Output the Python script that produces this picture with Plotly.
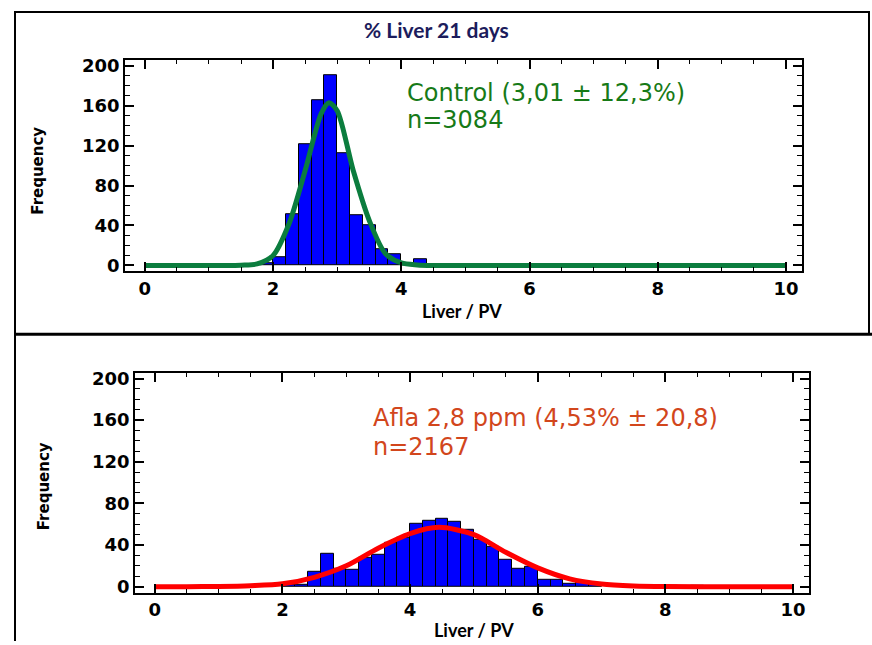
import plotly.graph_objects as go

W, H = 872, 645

# ---------------- data ----------------
bin_width = 0.2

control_bin_centers = [1.9, 2.1, 2.3, 2.5, 2.7, 2.9, 3.1, 3.3, 3.5, 3.7, 3.9, 4.1, 4.3]
control_counts      = [2,   8,   51,  121, 165, 190, 112, 50,  40,  16,  11,  0,   6]

afla_bin_centers = [2.1, 2.3, 2.5, 2.7, 2.9, 3.1, 3.3, 3.5, 3.7, 3.9, 4.1, 4.3, 4.5,
                    4.7, 4.9, 5.1, 5.3, 5.5, 5.7, 5.9, 6.1, 6.3, 6.5, 6.7, 6.9, 7.9, 8.1, 8.5]
afla_counts      = [2,   2,   14,  32,  17,  16,  28,  31,  42,  47,  60,  63,  65,
                    62,  55,  45,  38,  26,  17,  19,  7,   7,   3,   4,   3,   1,   1,   1]

control_fit_x = [0, 1.0, 1.25, 1.5, 1.75, 2.0, 2.25, 2.5, 2.75, 2.87, 3.0, 3.25, 3.5, 3.75, 4.0, 4.25, 4.5, 5.0, 7.5, 10]
control_fit_y = [0, 0,   0,    0.3, 1.5,  10,  42,   95,  152,  163,  155, 95,   45,  12,   2.5, 0.5,  0,   0,   0,   0]

afla_fit_x = [0, 0.5, 1.0, 1.5, 2.0, 2.5, 3.0, 3.5, 4.0, 4.45, 5.0, 5.5, 6.0, 6.5, 7.0, 7.5, 8.0, 9.0, 10]
afla_fit_y = [0, 0,   0.2, 0.9, 2.7, 9,   20,  37,  51,  57,   50,  33,  18,  7.5, 2.5, 0.7, 0.1, 0,   0]

x_tick_vals = [0, 2, 4, 6, 8, 10]
y_tick_vals = [0, 40, 80, 120, 160, 200]

title_text = "% Liver 21 days"
x_title = "Liver / PV"
y_title = "Frequency"
control_lines = ["Control (3,01 ± 12,3%)", "n=3084"]
afla_lines = ["Afla 2,8 ppm (4,53% ± 20,8)", "n=2167"]

# ---------------- figure ----------------
def px_x(p):
    return p / W

def px_y(p):
    return 1 - p / H

fig = go.Figure()

fig.add_trace(go.Bar(x=control_bin_centers, y=control_counts, width=bin_width,
                     marker=dict(color="#0000ff", line=dict(color="black", width=1)),
                     xaxis="x", yaxis="y", showlegend=False))
fig.add_trace(go.Scatter(x=control_fit_x, y=control_fit_y, mode="lines",
                         line=dict(color="#0b7d3e", width=5, shape="spline", smoothing=0.8),
                         xaxis="x", yaxis="y", showlegend=False))

fig.add_trace(go.Bar(x=afla_bin_centers, y=afla_counts, width=bin_width,
                     marker=dict(color="#0000ff", line=dict(color="black", width=1)),
                     xaxis="x2", yaxis="y2", showlegend=False))
fig.add_trace(go.Scatter(x=afla_fit_x, y=afla_fit_y, mode="lines",
                         line=dict(color="#ff0000", width=5, shape="spline", smoothing=0.8),
                         xaxis="x2", yaxis="y2", showlegend=False))

tickfont = dict(family="DejaVu Sans", size=18, color="black", weight="bold")

def xaxis_cfg(domain, anchor):
    return dict(domain=domain, anchor=anchor, range=[-0.31, 10.25],
                tickmode="array", tickvals=x_tick_vals,
                showline=True, linecolor="black", linewidth=1.5, mirror="allticks",
                ticks="inside", ticklen=9, tickwidth=1.5, tickcolor="black",
                minor=dict(ticks="inside", dtick=0.5, tick0=0, ticklen=4, tickwidth=1, tickcolor="black"),
                showgrid=False, zeroline=False, tickfont=tickfont)

def yaxis_cfg(domain, anchor):
    return dict(domain=domain, anchor=anchor, range=[-5.8, 205.5],
                tickmode="array", tickvals=y_tick_vals,
                showline=True, linecolor="black", linewidth=1.5, mirror="allticks",
                ticks="inside", ticklen=9, tickwidth=1.5, tickcolor="black",
                minor=dict(ticks="inside", dtick=10, tick0=0, ticklen=5, tickwidth=1, tickcolor="black"),
                showgrid=False, zeroline=False, tickfont=tickfont)

fig.update_layout(
    width=W, height=H,
    margin=dict(l=0, r=0, t=0, b=0),
    paper_bgcolor="white", plot_bgcolor="white",
    bargap=0, showlegend=False,
    xaxis=xaxis_cfg([px_x(125), px_x(802)], "y"),
    yaxis=yaxis_cfg([px_y(270), px_y(56)], "x"),
    xaxis2=xaxis_cfg([px_x(135), px_x(809)], "y2"),
    yaxis2=yaxis_cfg([px_y(596), px_y(373)], "x2"),
)

def text_ann(text, x, y, font, xanchor="center", angle=0):
    return dict(text=text, x=px_x(x), y=px_y(y), xref="paper", yref="paper",
                showarrow=False, xanchor=xanchor, yanchor="middle", textangle=angle,
                font=font)

title_font = dict(family="Lato", size=21, color="#1c1c5c", weight="bold")
xt_font = dict(family="Lato", size=18, color="black", weight="bold")
yt_font = dict(family="DejaVu Sans", size=15, color="black", weight="bold")
ctrl_font = dict(family="DejaVu Sans", size=24, color="#177a17")
afla_font = dict(family="DejaVu Sans", size=24, color="#d2461c")

annotations = [
    text_ann(title_text, 437, 25, title_font),
    text_ann(x_title, 462, 310, xt_font),
    text_ann(x_title, 474, 634, xt_font),
    text_ann(y_title, 38, 168, yt_font, angle=-90),
    text_ann(y_title, 44, 488, yt_font, angle=-90),
    text_ann(control_lines[0], 405, 89, ctrl_font, xanchor="left"),
    text_ann(control_lines[1], 405, 117, ctrl_font, xanchor="left"),
    text_ann(afla_lines[0], 371, 419, afla_font, xanchor="left"),
    text_ann(afla_lines[1], 371, 448, afla_font, xanchor="left"),
]
fig.update_layout(annotations=annotations)

def line(x0, y0, x1, y1, w):
    return dict(type="line", xref="paper", yref="paper",
                x0=px_x(x0), y0=px_y(y0), x1=px_x(x1), y1=px_y(y1),
                line=dict(color="black", width=w))

fig.update_layout(shapes=[
    line(15, 7, 869, 7, 2),
    line(15, 6, 15, 645, 2),
    line(869, 6, 869, 334, 2),
    line(15, 334, 872, 334, 3),
])

fig.write_html("out.html",
               config={"displayModeBar": False},
               post_script="document.body.style.margin='0';document.body.style.overflow='hidden';")
